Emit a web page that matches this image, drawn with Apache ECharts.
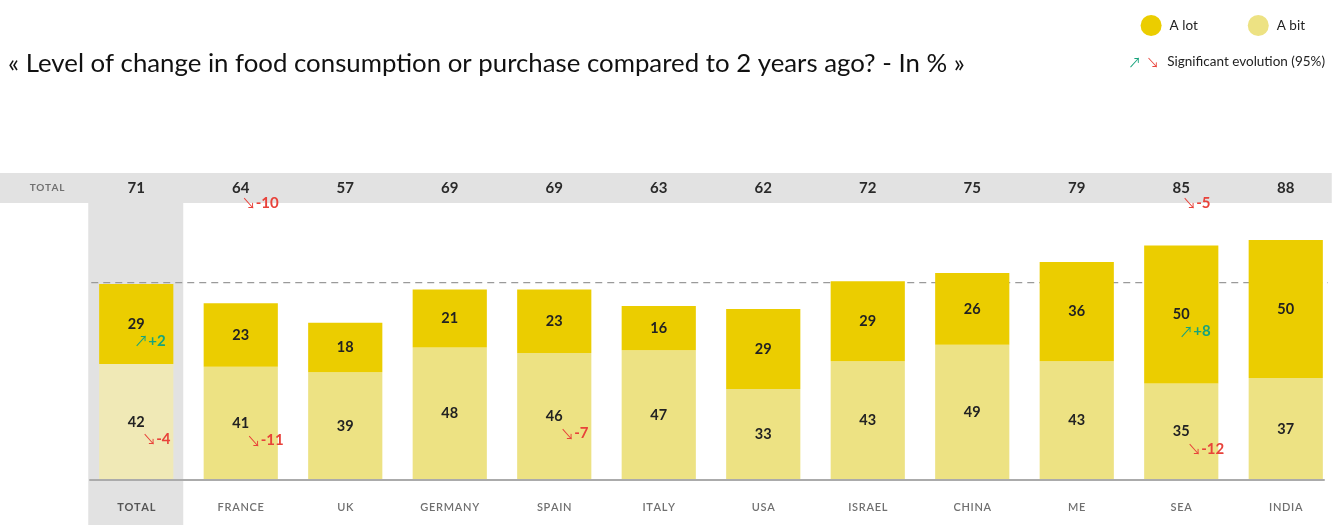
<!DOCTYPE html>
<html>
<head>
<meta charset="utf-8">
<script src="https://cdn.jsdelivr.net/npm/echarts@6/dist/echarts.min.js"></script>
<style>
  html, body { margin: 0; padding: 0; background: #fff; }
  #chart { width: 1339px; height: 525px; }
</style>
</head>
<body>
<div id="chart"></div>
<script>
// Survey markets, left to right
const categories = ['TOTAL', 'FRANCE', 'UK', 'GERMANY', 'SPAIN', 'ITALY', 'USA', 'ISRAEL', 'CHINA', 'ME', 'SEA', 'INDIA'];
// Share of respondents (%) who changed their food consumption or purchase
const aLot = [29, 23, 18, 21, 23, 16, 29, 29, 26, 36, 50, 50];
const aBit = [42, 41, 39, 48, 46, 47, 33, 43, 49, 43, 35, 37];
const totals = [71, 64, 57, 69, 69, 63, 62, 72, 75, 79, 85, 88];
// Significant evolutions (95%) versus the previous wave; null = not significant
const evoLot = [2, null, null, null, null, null, null, null, null, null, 8, null];
const evoBit = [-4, -11, null, null, -7, null, null, null, null, null, -12, null];
const evoTotal = [null, -10, null, null, null, null, null, null, null, null, -5, null];

const FONT = 'Lato, "Open Sans", sans-serif';
const ARROW_FONT = '"Noto Sans CJK JP", "DejaVu Sans", sans-serif';
const C_LOT = '#EBCD00';
const C_BIT = '#EDE283';
const C_BIT_TOTAL = '#F0E9B6';
const C_UP = '#17A37C';
const C_DOWN = '#E8423A';
const C_BAND = '#E2E2E2';

// Evolution markers: [category index, anchor value, evolution, kind]
// kind 0 = "A lot" segment, 1 = "A bit" segment, 2 = total row
const evoPoints = [];
categories.forEach((c, i) => {
  if (evoLot[i] != null) evoPoints.push([i, aBit[i] + aLot[i] / 2, evoLot[i], 0]);
  if (evoBit[i] != null) evoPoints.push([i, aBit[i] / 2, evoBit[i], 1]);
  if (evoTotal[i] != null) evoPoints.push([i, 100, evoTotal[i], 2]);
});
const EVO_OFFSET = [[-2, 17], [6, 17], [1, -1]];

const spaced = s => s.split('').join('\u200A');

const chart = echarts.init(document.getElementById('chart'), null, { renderer: 'canvas' });

const option = {
  animation: false,
  textStyle: { fontFamily: FONT },
  title: {
    text: '« Level of change in food consumption or purchase compared to 2 years ago? - In % »',
    left: 8,
    top: 51,
    padding: 0,
    textStyle: { fontFamily: FONT, fontSize: 25.8, fontWeight: 'normal', color: '#111' }
  },
  legend: {
    right: 29,
    top: 10,
    icon: 'circle',
    itemWidth: 21,
    itemHeight: 21,
    itemGap: 50,
    data: ['A lot', 'A bit'],
    textStyle: { fontFamily: FONT, fontSize: 13.5, color: '#222', padding: [0, 0, 0, 3] }
  },
  grid: { left: 84, right: 1, top: 204, bottom: 45, containLabel: false },
  xAxis: [
    {
      type: 'category',
      data: categories,
      axisLine: { show: false },
      axisTick: { show: false },
      axisLabel: {
        margin: 22,
        fontFamily: FONT,
        fontSize: 11,
        fontWeight: 600,
        color: '#707070',
        formatter: (v, i) => i === 0 ? '{b|' + spaced(v) + '}' : spaced(v),
        rich: { b: { fontFamily: FONT, fontSize: 11, fontWeight: 'bold', color: '#555' } }
      }
    },
    {
      type: 'category',
      position: 'top',
      data: categories,
      axisLine: { show: false },
      axisTick: { show: false },
      axisLabel: {
        margin: 8,
        fontFamily: FONT,
        fontSize: 15,
        fontWeight: 'bold',
        color: '#2a2a2a',
        formatter: (v, i) => String(totals[i])
      }
    }
  ],
  yAxis: {
    type: 'value',
    min: 0,
    max: 100,
    show: false,
    splitLine: { show: false }
  },
  series: [
    {
      name: 'A bit',
      type: 'bar',
      stack: 'level',
      barWidth: '71%',
      itemStyle: { color: C_BIT },
      data: aBit.map((v, i) => i === 0 ? { value: v, itemStyle: { color: C_BIT_TOTAL } } : v),
      label: {
        show: true,
        position: 'inside',
        fontFamily: FONT,
        fontSize: 14.5,
        fontWeight: 'bold',
        color: '#222'
      }
    },
    {
      name: 'A lot',
      type: 'bar',
      stack: 'level',
      barWidth: '71%',
      itemStyle: { color: C_LOT },
      data: aLot,
      label: {
        show: true,
        position: 'inside',
        fontFamily: FONT,
        fontSize: 14.5,
        fontWeight: 'bold',
        color: '#222'
      }
    },
    {
      name: 'evolution',
      type: 'custom',
      clip: false,
      z: 10,
      silent: true,
      data: evoPoints,
      renderItem: (params, api) => {
        const idx = api.value(0);
        const pt = api.coord([idx, api.value(1)]);
        const evo = api.value(2);
        const kind = api.value(3);
        const off = EVO_OFFSET[kind];
        const up = evo > 0;
        const color = up ? C_UP : C_DOWN;
        return {
          type: 'text',
          x: pt[0] + off[0],
          y: pt[1] + off[1],
          style: {
            text: '{a|' + (up ? '\u2197' : '\u2198') + '}{n|' + (up ? '+' : '') + evo + '}',
            align: 'left',
            verticalAlign: 'middle',
            fill: color,
            rich: {
              a: { fontFamily: ARROW_FONT, fontSize: 14, fill: color, padding: [0, 0, 0, 0] },
              n: { fontFamily: FONT, fontSize: 15, fontWeight: 'bold', fill: color }
            }
          }
        };
      }
    }
  ]
};

chart.setOption(option);

// Background bands (totals row, highlighted TOTAL column), baseline and the TOTAL reference line
const x0 = chart.convertToPixel({ xAxisIndex: 0 }, categories[0]);
const xLast = chart.convertToPixel({ xAxisIndex: 0 }, categories[categories.length - 1]);
const yTop = chart.convertToPixel({ yAxisIndex: 0 }, 100);
const yBase = chart.convertToPixel({ yAxisIndex: 0 }, 0);
const yRef = chart.convertToPixel({ yAxisIndex: 0 }, totals[0]);

chart.setOption({
  graphic: [
    {
      type: 'rect', z: -10, silent: true,
      shape: { x: 0, y: yTop - 31, width: xLast + 46, height: 30 },
      style: { fill: C_BAND }
    },
    {
      type: 'rect', z: -10, silent: true,
      shape: { x: x0 - 48, y: yTop - 1, width: 95, height: 525 - yTop + 1 },
      style: { fill: C_BAND }
    },
    {
      type: 'line', z: 1, silent: true,
      shape: { x1: x0 - 45, y1: yRef - 1.5, x2: xLast + 42, y2: yRef - 1.5 },
      style: { stroke: '#9a9a9a', lineWidth: 1.3, lineDash: [7, 5] }
    },
    {
      type: 'line', z: 5, silent: true,
      shape: { x1: x0 - 47, y1: yBase, x2: xLast + 39, y2: yBase },
      style: { stroke: '#ababab', lineWidth: 2 }
    },
    {
      type: 'text', silent: true,
      x: 47, y: yTop - 16,
      style: {
        text: spaced('TOTAL'),
        align: 'center', verticalAlign: 'middle',
        fontFamily: FONT, fontSize: 10, fontWeight: 'bold', fill: '#707070'
      }
    },
    {
      type: 'text', silent: true,
      x: 1325, y: 62,
      style: {
        text: '{g|\u2197}{r|\u2198}{t|Significant evolution (95%)}',
        align: 'right', verticalAlign: 'middle',
        rich: {
          g: { fontFamily: ARROW_FONT, fontSize: 13, fill: C_UP, padding: [0, 5, 0, 0] },
          r: { fontFamily: ARROW_FONT, fontSize: 13, fill: C_DOWN, padding: [0, 8, 0, 0] },
          t: { fontFamily: FONT, fontSize: 13.5, fill: '#222' }
        }
      }
    }
  ]
});
</script>
</body>
</html>
